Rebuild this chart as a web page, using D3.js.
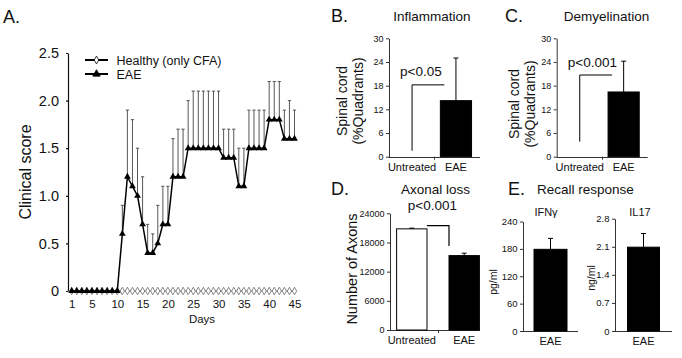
<!DOCTYPE html>
<html>
<head>
<meta charset="UTF-8">
<script src="https://d3js.org/d3.v7.min.js"></script>
<style>
  body { margin: 0; background: #fff; }
  svg { font-family: Arial, "Liberation Sans", sans-serif; }
  text { fill: #111; }
</style>
</head>
<body>
<svg width="682" height="358"></svg>
<script>
// ---- panel A: clinical score per day ----
const days = [1, 2, 3, 4, 5, 6, 7, 8, 9, 10, 11, 12, 13, 14, 15, 16, 17, 18, 19, 20, 21, 22, 23,
  24, 25, 26, 27, 28, 29, 30, 31, 32, 33, 34, 35, 36, 37, 38, 39, 40, 41, 42, 43, 44, 45];
const healthyScore = [0, 0, 0, 0, 0, 0, 0, 0, 0, 0, 0, 0, 0, 0, 0, 0, 0, 0, 0, 0, 0, 0, 0,
  0, 0, 0, 0, 0, 0, 0, 0, 0, 0, 0, 0, 0, 0, 0, 0, 0, 0, 0, 0, 0, 0];
const eaeScore = [0, 0, 0, 0, 0, 0, 0, 0, 0, 0, 0.6, 1.2, 1.1, 1.0, 0.7, 0.4, 0.4, 0.5, 0.7, 0.7,
  1.2, 1.2, 1.2, 1.5, 1.5, 1.5, 1.5, 1.5, 1.5, 1.5, 1.4, 1.4, 1.4, 1.1, 1.1, 1.5, 1.5, 1.5, 1.5,
  1.8, 1.8, 1.8, 1.6, 1.6, 1.6];
const eaeErr = [0, 0, 0, 0, 0, 0, 0, 0, 0, 0, 0.3, 0.7, 0.7, 0.5, 0.5, 0.3, 0.2, 0.4, 0.4, 0.4,
  0.4, 0.5, 0.5, 0.5, 0.6, 0.6, 0.6, 0.6, 0.6, 0.6, 0.3, 0.3, 0.3, 0.4, 0.4, 0.4, 0.4, 0.4, 0.4,
  0.4, 0.4, 0.4, 0.3, 0.4, 0.3];
const dayTicks = [1, 5, 10, 15, 20, 25, 30, 35, 40, 45];
const scoreTicks = [0, 0.5, 1, 1.5, 2, 2.5];

// ---- panels B-D: histology ----
const groups = ["Untreated", "EAE"];
const inflammation = [0, 14.2];
const inflammationErr = [0, 10.8];
const demyelination = [0, 16.4];
const demyelinationErr = [0, 7.8];
const quadrantTicks = [0, 6, 12, 18, 24, 30];
const axons = [20800, 15300];
const axonsErr = [150, 500];
const axonTicks = [0, 6000, 12000, 18000, 24000];

// ---- panel E: recall response ----
const recallGroup = ["EAE"];
const ifng = [179];
const ifngErr = [24];
const ifngTicks = [0, 60, 120, 180, 240];
const il17 = [2.09];
const il17Err = [0.34];
const il17Ticks = [0, 0.7, 1.4, 2.1, 2.8];

const svg = d3.select("svg");

function label(g, x, y, str, size, anchor, rot) {
  const t = g.append("text")
    .attr("font-size", size)
    .attr("text-anchor", anchor || "start")
    .text(str);
  if (rot) t.attr("transform", `translate(${x},${y}) rotate(-90)`);
  else t.attr("x", x).attr("y", y);
  return t;
}

// ================= A =================
const xA = d3.scaleLinear().domain([1, 45]).range([71.7, 294.5]);
const yA = d3.scaleLinear().domain([0, 2.5]).range([291, 53]);
const gA = svg.append("g");

gA.append("g")
  .attr("transform", "translate(68,0)")
  .call(d3.axisLeft(yA).tickValues(scoreTicks).tickSize(2).tickSizeOuter(0).tickPadding(7)
    .tickFormat(d => d === 0 ? "0" : d3.format(".1f")(d)))
  .call(g => g.attr("font-family", null).attr("font-size", null))
  .call(g => g.selectAll("text").attr("font-size", 14.5).attr("fill", "#111"))
  .call(g => g.selectAll("path,line").attr("stroke", "#111").attr("stroke-width", 1.2));

gA.append("g")
  .attr("transform", "translate(0,291)")
  .call(d3.axisBottom(xA).tickValues(dayTicks).tickSize(0).tickPadding(9))
  .call(g => g.attr("font-family", null).attr("font-size", null))
  .call(g => g.select(".domain").remove())
  .call(g => g.selectAll("text").attr("font-size", 11.5).attr("fill", "#111"));

const eae = days.map((d, i) => ({ day: d, v: eaeScore[i], e: eaeErr[i] }));
const healthy = days.map((d, i) => ({ day: d, v: healthyScore[i] }));

// error bars (upper only)
const eb = gA.append("g").attr("stroke", "#444").attr("stroke-width", 0.9);
eb.selectAll("line.v").data(eae.filter(d => d.e > 0)).join("line")
  .attr("class", "v")
  .attr("x1", d => xA(d.day)).attr("x2", d => xA(d.day))
  .attr("y1", d => yA(d.v)).attr("y2", d => yA(d.v + d.e));
eb.selectAll("line.c").data(eae.filter(d => d.e > 0)).join("line")
  .attr("class", "c")
  .attr("x1", d => xA(d.day) - 1.6).attr("x2", d => xA(d.day) + 1.6)
  .attr("y1", d => yA(d.v + d.e)).attr("y2", d => yA(d.v + d.e));

const lineA = d3.line().x(d => xA(d.day)).y(d => yA(d.v));
gA.append("path").datum(healthy).attr("d", lineA)
  .attr("fill", "none").attr("stroke", "#777").attr("stroke-width", 0.8);
gA.append("g").selectAll("path").data(healthy).join("path")
  .attr("d", d3.symbol(d3.symbolDiamond, 16))
  .attr("transform", d => `translate(${xA(d.day)},${yA(d.v)})`)
  .attr("fill", "#fff").attr("stroke", "#555").attr("stroke-width", 0.7);

gA.append("path").datum(eae).attr("d", lineA)
  .attr("fill", "none").attr("stroke", "#000").attr("stroke-width", 1.5);
gA.append("g").selectAll("path").data(eae).join("path")
  .attr("d", d3.symbol(d3.symbolTriangle, 20))
  .attr("transform", d => `translate(${xA(d.day)},${yA(d.v)})`)
  .attr("fill", "#000");

// legend
const legend = [
  { name: "Healthy (only CFA)", sym: d3.symbolDiamond, size: 18, fill: "#fff" },
  { name: "EAE", sym: d3.symbolTriangle, size: 24, fill: "#000" }
];
const lg = gA.append("g").selectAll("g").data(legend).join("g")
  .attr("transform", (d, i) => `translate(85,${60 + i * 14})`);
lg.append("line").attr("x1", 0).attr("x2", 23).attr("stroke", "#000").attr("stroke-width", 2);
lg.append("path").attr("d", d => d3.symbol(d.sym, d.size)())
  .attr("transform", "translate(11.5,0)")
  .attr("fill", d => d.fill).attr("stroke", "#000").attr("stroke-width", 0.8);
lg.append("text").attr("x", 31.5).attr("y", 4.5).attr("font-size", 12.5).text(d => d.name);

label(gA, 3, 22.5, "A.", 18);
label(gA, 31, 172, "Clinical score", 16, "middle", true);
label(gA, 202, 323, "Days", 11.5, "middle");

// ================= bar panels =================
function barPanel(o) {
  const g = svg.append("g");
  const y = d3.scaleLinear().domain([0, o.ticks[o.ticks.length - 1]]).range([o.y0, o.y1]);
  const x = d3.scaleBand().domain(o.cats).range([o.x0, o.x0 + o.bandLen])
    .paddingInner(o.pi).paddingOuter(o.po).align(0.5);

  g.append("g")
    .attr("transform", `translate(${o.x0},0)`)
    .call(d3.axisLeft(y).tickValues(o.ticks).tickSize(3).tickSizeOuter(0).tickPadding(2.5)
      .tickFormat(o.fmt))
    .call(a => a.attr("font-family", null).attr("font-size", null))
    .call(a => a.selectAll("text").attr("font-size", o.tickFont).attr("fill", "#111"))
    .call(a => a.selectAll("path,line").attr("stroke", "#333"));

  g.append("line")
    .attr("x1", o.x0).attr("x2", o.x0 + o.axisLen)
    .attr("y1", Math.round(y(0)) + 0.5).attr("y2", Math.round(y(0)) + 0.5)
    .attr("stroke", "#333");
  if (o.cats.length > 1) {
    const mx = Math.round(x(o.cats[1]) - x.step() * x.paddingInner() / 2) + 0.5;
    g.append("line").attr("x1", mx).attr("x2", mx)
      .attr("y1", y(0)).attr("y2", y(0) + 3).attr("stroke", "#333");
  }

  const rows = o.cats.map((c, i) => ({ c, v: o.values[i], e: o.errs[i], fill: o.fills[i] }))
    .filter(d => d.v > 0);
  g.selectAll("rect").data(rows).join("rect")
    .attr("x", d => x(d.c)).attr("width", x.bandwidth())
    .attr("y", d => y(d.v)).attr("height", d => y(0) - y(d.v))
    .attr("fill", d => d.fill).attr("stroke", "#000").attr("stroke-width", 1);
  g.selectAll("path.err").data(rows).join("path")
    .attr("class", "err")
    .attr("d", d => {
      const cx = x(d.c) + x.bandwidth() / 2, top = y(d.v + d.e);
      return `M${cx},${y(d.v)}V${top}M${cx - 2.5},${top}H${cx + 2.5}`;
    })
    .attr("fill", "none").attr("stroke", "#000").attr("stroke-width", 1);

  g.selectAll("text.cat").data(o.cats).join("text")
    .attr("class", "cat")
    .attr("x", d => x(d) + x.bandwidth() / 2).attr("y", o.catY)
    .attr("text-anchor", "middle").attr("font-size", 11)
    .text(d => d);
  return { g, x, y };
}

const intFmt = d3.format("d");
const decFmt = d => d === 0 ? "0" : d.toFixed(1);

// ---- B ----
const B = barPanel({
  cats: groups, values: inflammation, errs: inflammationErr, fills: ["#fff", "#000"],
  ticks: quadrantTicks, fmt: intFmt, tickFont: 9,
  x0: 389, bandLen: 90, axisLen: 91, pi: 0.29, po: 0.17, y0: 156.7, y1: 38.3, catY: 171
});
// ---- C ----
const C = barPanel({
  cats: groups, values: demyelination, errs: demyelinationErr, fills: ["#fff", "#000"],
  ticks: quadrantTicks, fmt: intFmt, tickFont: 9,
  x0: 556.7, bandLen: 90, axisLen: 91, pi: 0.29, po: 0.17, y0: 156.7, y1: 38.3, catY: 171
});
// ---- D ----
const D = barPanel({
  cats: groups, values: axons, errs: axonsErr, fills: ["#fff", "#000"],
  ticks: axonTicks, fmt: intFmt, tickFont: 9,
  x0: 390, bandLen: 96, axisLen: 90, pi: 0.42, po: 0.126, y0: 330, y1: 213.3, catY: 344
});
// ---- E ----
const E1 = barPanel({
  cats: recallGroup, values: ifng, errs: ifngErr, fills: ["#000"],
  ticks: ifngTicks, fmt: intFmt, tickFont: 9.5,
  x0: 523, bandLen: 55, axisLen: 55, pi: 0.25, po: 0.25, y0: 331, y1: 221.5, catY: 345
});
const E2 = barPanel({
  cats: recallGroup, values: il17, errs: il17Err, fills: ["#000"],
  ticks: il17Ticks, fmt: decFmt, tickFont: 9.5,
  x0: 615, bandLen: 57, axisLen: 57, pi: 0.281, po: 0.281, y0: 331, y1: 218.7, catY: 345
});

// significance brackets
function bracketUp(P, lo, hi, text) {
  const cx = P.x(groups[0]) + P.x.bandwidth() / 2;
  const ex = P.x(groups[1]) + 4;
  P.g.append("path")
    .attr("d", `M${cx},${P.y(lo)}V${P.y(hi)}H${ex}`)
    .attr("fill", "none").attr("stroke", "#000").attr("stroke-width", 1);
  label(P.g, cx - 12, P.y(hi) - 8.5, text, 13.5);
}
bracketUp(B, 1.5, 18.2, "p<0.05");
bracketUp(C, 3.8, 20.7, "p<0.001");

{
  const x1 = D.x(groups[0]) + D.x.bandwidth();
  const x2 = D.x(groups[1]);
  D.g.append("path")
    .attr("d", `M${x1},${D.y(21450)}H${x2}V${D.y(17300)}`)
    .attr("fill", "none").attr("stroke", "#000").attr("stroke-width", 1.2);
  label(D.g, D.x(groups[0]) + D.x.bandwidth() / 2 - 4, 210, "p<0.001", 13.5);
}

// panel letters, titles, axis titles
label(svg, 331, 21.5, "B.", 18);
label(svg, 505, 21.5, "C.", 18);
label(svg, 331, 195, "D.", 18);
label(svg, 508, 195, "E.", 18);

label(svg, 432, 21, "Inflammation", 13.5, "middle");
label(svg, 606.5, 21, "Demyelination", 13.5, "middle");
label(svg, 435.5, 193.5, "Axonal loss", 13.5, "middle");
label(svg, 537, 193.5, "Recall response", 13.5);
label(svg, 546, 216, "IFN\u03B3", 11, "middle");
label(svg, 640, 215.5, "IL17", 11, "middle");

label(svg, 347, 101, "Spinal cord", 14, "middle", true);
label(svg, 363, 101, "(%Quadrants)", 14, "middle", true);
label(svg, 519, 104, "Spinal cord", 14, "middle", true);
label(svg, 535, 104, "(%Quadrants)", 14, "middle", true);
label(svg, 357, 269, "Number of Axons", 14.5, "middle", true);
label(svg, 497, 282, "pg/ml", 10.5, "middle", true);
label(svg, 594.5, 278, "ng/ml", 10.5, "middle", true);
</script>
</body>
</html>
